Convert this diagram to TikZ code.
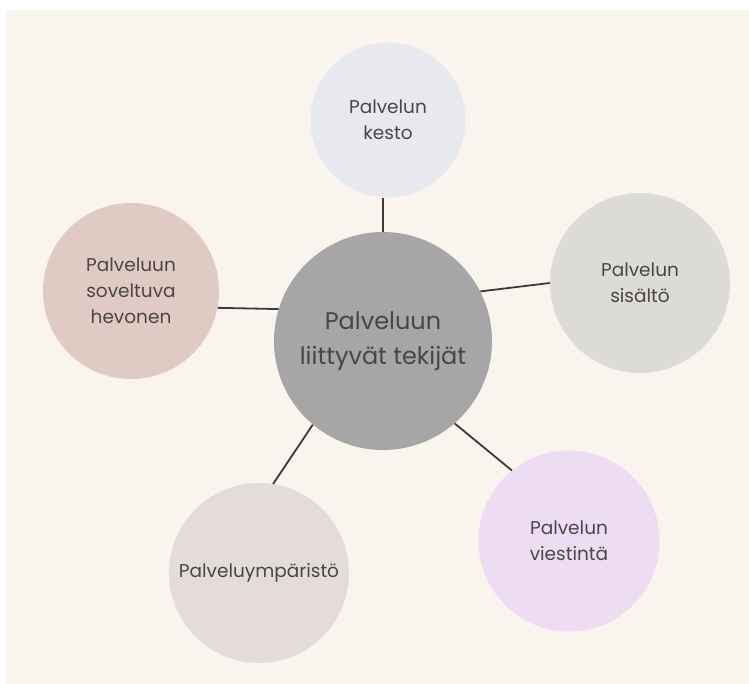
\documentclass[tikz,border=0pt]{standalone}
\usepackage{fontspec}
\setmainfont{Poppins}
\definecolor{paper}{HTML}{F9F4EE}
\definecolor{hubfill}{HTML}{A6A6A6}
\definecolor{kestofill}{HTML}{E8E9EE}
\definecolor{sisaltofill}{HTML}{DDDBD5}
\definecolor{hevonenfill}{HTML}{DFCAC4}
\definecolor{ymparistofill}{HTML}{E3DCDA}
\definecolor{viestintafill}{HTML}{EEDCF3}
\definecolor{ink}{HTML}{4A4646}
\definecolor{hubink}{HTML}{474747}
\definecolor{linkcol}{HTML}{3A3A3A}
\tikzset{
  bubble/.style={circle, inner sep=0pt, align=center, text=ink,
    font=\fontsize{18.5}{26}\selectfont},
  hubbubble/.style={circle, inner sep=0pt, align=center, text=hubink,
    fill=hubfill, minimum size=218pt,
    font=\fontsize{24}{35}\selectfont},
  link/.style={draw=linkcol, line width=1.8pt}
}
\begin{document}
\begin{tikzpicture}[x=1pt,y=-1pt]
  \useasboundingbox (0,0) rectangle (749,684);
  % page background
  \fill[paper] (6,10) rectangle (749,684);

  % central topic
  \node[hubbubble] (hub) at (383,341) {Palveluun\\liittyvät tekijät};

  % surrounding factors
  \node[bubble, fill=kestofill, minimum size=155pt] (kesto) at (388,120) {Palvelun\\kesto};
  \node[bubble, fill=sisaltofill, minimum size=180pt] (sisalto) at (640,283) {Palvelun\\sisältö};
  \node[bubble, fill=hevonenfill, minimum size=176pt] (hevonen) at (131,291) {Palveluun\\soveltuva\\hevonen};
  \node[bubble, fill=ymparistofill, minimum size=180pt] (ymparisto) at (259,573) {Palveluympäristö};
  \node[bubble, fill=viestintafill, minimum size=181pt] (viestinta) at (569,541) {Palvelun\\viestintä};

  % connectors
  \draw[link] (hub.90) -- (hub.90 |- kesto.south);
  \draw[link] (hub.27) -- (sisalto.180);
  \draw[link] (hub.163) -- (hevonen.349);
  \draw[link] (hub.230) -- (ymparisto.81);
  \draw[link] (hub.311) -- (viestinta.129);
\end{tikzpicture}
\end{document}
